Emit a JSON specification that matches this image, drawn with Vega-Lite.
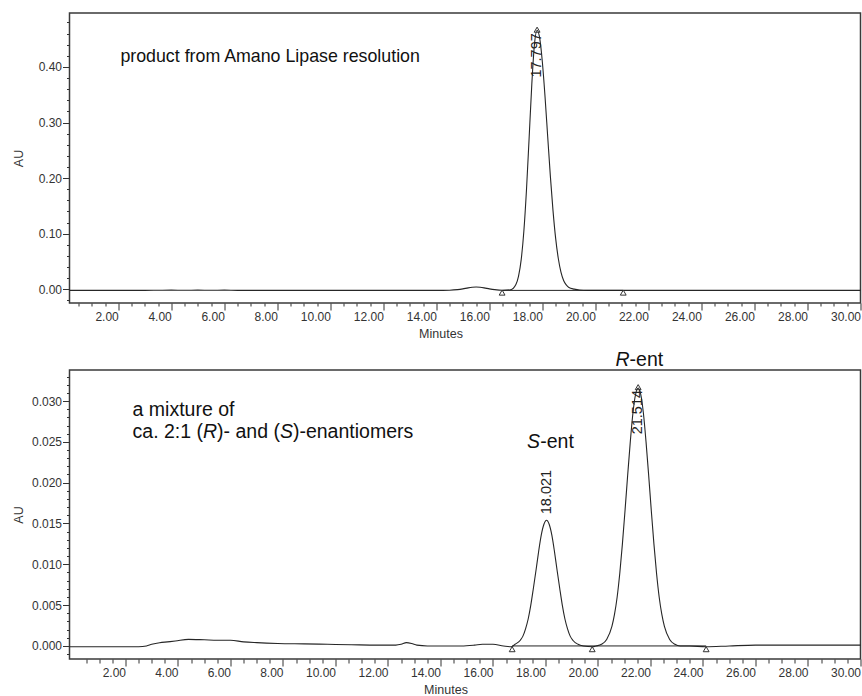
{
  "$schema": "https://vega.github.io/schema/vega-lite/v6.json",
  "padding": {"left": 11.5, "top": 12, "right": 0, "bottom": 0},
  "autosize": {"type": "pad"},
  "background": "white",
  "bounds": "full",
  "align": "none",
  "spacing": 8,
  "config": {
    "font": "Liberation Sans",
    "view": {"stroke": "#3a3a3a", "strokeWidth": 1.5},
    "axis": {"domain": false, "grid": false, "tickColor": "#333", "tickWidth": 1, "labelColor": "#333", "labelFontSize": 12, "titleFontSize": 12.5, "titleFontWeight": "normal", "titleColor": "#333", "labelFont": "Liberation Sans", "titleFont": "Liberation Sans", "labelOverlap": false, "labelFlush": false},
    "text": {"font": "Liberation Sans", "color": "#111"}
  },
  "datasets": {
    "top": [
      {"t": 0.16, "au": -0.002}, {"t": 1, "au": -0.002}, {"t": 2, "au": -0.002}, {"t": 3, "au": -0.002},
      {"t": 3.5, "au": -0.0018}, {"t": 4, "au": -0.0016}, {"t": 4.5, "au": -0.0018}, {"t": 5, "au": -0.0016},
      {"t": 5.5, "au": -0.0018}, {"t": 6, "au": -0.0016}, {"t": 6.5, "au": -0.002}, {"t": 7, "au": -0.002},
      {"t": 8, "au": -0.002}, {"t": 9, "au": -0.002}, {"t": 10, "au": -0.002}, {"t": 11, "au": -0.002},
      {"t": 12, "au": -0.002}, {"t": 13, "au": -0.002}, {"t": 14, "au": -0.002}, {"t": 14.5, "au": -0.0017},
      {"t": 14.8, "au": -0.0007}, {"t": 15, "au": 0.0007}, {"t": 15.2, "au": 0.0025}, {"t": 15.35, "au": 0.0035},
      {"t": 15.5, "au": 0.004}, {"t": 15.65, "au": 0.0035}, {"t": 15.8, "au": 0.0025}, {"t": 16, "au": 0.0007},
      {"t": 16.2, "au": -0.0007}, {"t": 16.5, "au": -0.0017}, {"t": 16.8, "au": -0.0008}, {"t": 17, "au": 0.0085},
      {"t": 17.1, "au": 0.0236}, {"t": 17.2, "au": 0.0533}, {"t": 17.3, "au": 0.1044}, {"t": 17.4, "au": 0.1796},
      {"t": 17.5, "au": 0.2732}, {"t": 17.6, "au": 0.3686}, {"t": 17.7, "au": 0.4408}, {"t": 17.8, "au": 0.466},
      {"t": 17.9, "au": 0.451}, {"t": 18, "au": 0.408}, {"t": 18.1, "au": 0.346}, {"t": 18.2, "au": 0.2745},
      {"t": 18.3, "au": 0.2036}, {"t": 18.4, "au": 0.1415}, {"t": 18.5, "au": 0.0915}, {"t": 18.6, "au": 0.0553},
      {"t": 18.7, "au": 0.0308}, {"t": 18.8, "au": 0.0158}, {"t": 18.9, "au": 0.0078}, {"t": 19, "au": 0.0032},
      {"t": 19.2, "au": 0.0002}, {"t": 19.4, "au": -0.0014}, {"t": 19.7, "au": -0.002}, {"t": 20.5, "au": -0.002},
      {"t": 21.5, "au": -0.002}, {"t": 22, "au": -0.002}, {"t": 23, "au": -0.002}, {"t": 24, "au": -0.002},
      {"t": 25, "au": -0.002}, {"t": 26, "au": -0.002}, {"t": 27, "au": -0.002}, {"t": 28, "au": -0.002},
      {"t": 29, "au": -0.002}, {"t": 30, "au": -0.002}
    ],
    "bot": [
      {"t": -0.13, "au": -0.0001}, {"t": 1, "au": -0.0001}, {"t": 2, "au": -0.0001}, {"t": 2.5, "au": -0.0001},
      {"t": 2.8, "au": 0.0}, {"t": 3.0, "au": 0.0002}, {"t": 3.3, "au": 0.0004}, {"t": 3.6, "au": 0.0005},
      {"t": 3.9, "au": 0.0006}, {"t": 4.4, "au": 0.0008}, {"t": 5.0, "au": 0.00075}, {"t": 5.5, "au": 0.0007},
      {"t": 6.0, "au": 0.0007}, {"t": 6.5, "au": 0.0005}, {"t": 7.0, "au": 0.0004}, {"t": 7.8, "au": 0.0003},
      {"t": 8.8, "au": 0.00025}, {"t": 9.7, "au": 0.0002}, {"t": 10.6, "au": 0.00015}, {"t": 11.6, "au": 0.0001},
      {"t": 12.3, "au": 0.0001}, {"t": 12.5, "au": 0.0002}, {"t": 12.7, "au": 0.0004}, {"t": 12.9, "au": 0.0003},
      {"t": 13.1, "au": 0.0001}, {"t": 13.5, "au": 0.0}, {"t": 14.0, "au": 0.0}, {"t": 14.8, "au": 0.0},
      {"t": 15.3, "au": 0.0001}, {"t": 15.6, "au": 0.0002}, {"t": 16.0, "au": 0.0002}, {"t": 16.4, "au": 0.0},
      {"t": 16.7, "au": -0.0001}, {"t": 16.84, "au": 0.0002}, {"t": 17.04, "au": 0.0007}, {"t": 17.14, "au": 0.0012},
      {"t": 17.24, "au": 0.0021}, {"t": 17.34, "au": 0.0033}, {"t": 17.44, "au": 0.005}, {"t": 17.54, "au": 0.0071},
      {"t": 17.64, "au": 0.0093}, {"t": 17.74, "au": 0.0116}, {"t": 17.84, "au": 0.0136}, {"t": 17.94, "au": 0.0149},
      {"t": 18.04, "au": 0.0154}, {"t": 18.14, "au": 0.0149}, {"t": 18.24, "au": 0.0136}, {"t": 18.34, "au": 0.0116},
      {"t": 18.44, "au": 0.0093}, {"t": 18.54, "au": 0.0071}, {"t": 18.64, "au": 0.005}, {"t": 18.74, "au": 0.0033},
      {"t": 18.84, "au": 0.0021}, {"t": 18.94, "au": 0.0012}, {"t": 19.04, "au": 0.0007}, {"t": 19.24, "au": 0.0002},
      {"t": 19.44, "au": 0.0}, {"t": 19.8, "au": -0.0001}, {"t": 19.93, "au": 0.0}, {"t": 20.13, "au": 0.0002},
      {"t": 20.33, "au": 0.0008}, {"t": 20.53, "au": 0.0024}, {"t": 20.63, "au": 0.0039}, {"t": 20.73, "au": 0.006},
      {"t": 20.83, "au": 0.0089}, {"t": 20.93, "au": 0.0125}, {"t": 21.03, "au": 0.0166}, {"t": 21.13, "au": 0.0209},
      {"t": 21.23, "au": 0.025}, {"t": 21.33, "au": 0.0285}, {"t": 21.43, "au": 0.0308}, {"t": 21.53, "au": 0.0316},
      {"t": 21.63, "au": 0.0308}, {"t": 21.73, "au": 0.0285}, {"t": 21.83, "au": 0.025}, {"t": 21.93, "au": 0.0209},
      {"t": 22.03, "au": 0.0166}, {"t": 22.13, "au": 0.0125}, {"t": 22.23, "au": 0.0089}, {"t": 22.33, "au": 0.006},
      {"t": 22.43, "au": 0.0039}, {"t": 22.53, "au": 0.0024}, {"t": 22.73, "au": 0.0008}, {"t": 22.93, "au": 0.0002},
      {"t": 23.13, "au": 0.0}, {"t": 23.5, "au": 0.0}, {"t": 24.1, "au": -0.0001}, {"t": 25, "au": 0.0},
      {"t": 26, "au": 0.0001}, {"t": 27, "au": 0.0001}, {"t": 28, "au": 0.0001}, {"t": 29, "au": 0.0001},
      {"t": 30, "au": 0.0001}
    ],
    "top_tri": [{"t": 16.48, "au": -0.006}, {"t": 21.05, "au": -0.006}, {"t": 17.8, "au": 0.467}],
    "bot_tri": [{"t": 16.73, "au": -0.0004}, {"t": 19.78, "au": -0.0004}, {"t": 24.12, "au": -0.0004}, {"t": 21.53, "au": 0.0317}],
    "top_base": [{"t": 16.48, "t2": 21.05, "au": -0.002}],
    "bot_base": [{"t": 16.73, "t2": 24.12, "au": 0.0}],
    "top_pk": [{"t": 17.8, "au": 0.466, "lab": "17.797"}],
    "bot_pk_in": [{"t": 21.53, "au": 0.0316, "lab": "21.514"}],
    "bot_pk_up": [{"t": 18.04, "au": 0.0154, "lab": "18.021"}],
    "top_note": [{"t": 2.08, "au": 0.409, "txt": "product from Amano Lipase resolution"}],
    "bot_note": [
      {"t": 2.27, "au": 0.02817, "txt": "a mixture of"},
      {"t": 2.27, "au": 0.02551, "txt": "ca. 2:1 ("},
      {"t": 5.49, "au": 0.02551, "txt": ")- and ("},
      {"t": 8.379, "au": 0.02551, "txt": ")-enantiomers"},
      {"t": 17.80, "au": 0.02421, "txt": "-ent"},
      {"t": 21.204, "au": 0.03429, "txt": "-ent"}
    ],
    "bot_ital": [
      {"t": 4.954, "au": 0.02551, "txt": "R"},
      {"t": 7.884, "au": 0.02551, "txt": "S"},
      {"t": 17.30, "au": 0.02421, "txt": "S"},
      {"t": 20.667, "au": 0.03429, "txt": "R"}
    ]
  },
  "vconcat": [
    {
      "width": 791,
      "height": 290,
      "encoding": {
        "x": {"field": "t", "type": "quantitative", "scale": {"domain": [0.16, 30], "nice": false, "zero": false},
          "axis": {"title": "Minutes", "titleX": 371, "titlePadding": 5,
            "values": [0.5,1,1.5,2,2.5,3,3.5,4,4.5,5,5.5,6,6.5,7,7.5,8,8.5,9,9.5,10,10.5,11,11.5,12,12.5,13,13.5,14,14.5,15,15.5,16,16.5,17,17.5,18,18.5,19,19.5,20,20.5,21,21.5,22,22.5,23,23.5,24,24.5,25,25.5,26,26.5,27,27.5,28,28.5,29,29.5,30],
            "labelExpr": "datum.value % 2 === 0 ? format(datum.value, '.2f') : ''",
            "labelAlign": "right", "labelPadding": 1,
            "tickSize": {"condition": {"test": "datum.value % 2 === 0", "value": 7}, "value": 3}}},
        "y": {"field": "au", "type": "quantitative", "scale": {"domain": [-0.0247, 0.497], "nice": false, "zero": false},
          "axis": {"title": "AU", "titleX": -44,
            "values": [-0.02,0,0.02,0.04,0.06,0.08,0.1,0.12,0.14,0.16,0.18,0.2,0.22,0.24,0.26,0.28,0.3,0.32,0.34,0.36,0.38,0.4,0.42,0.44,0.46,0.48],
            "labelExpr": "abs(datum.value*10 - round(datum.value*10)) < 1e-6 ? format(datum.value, '.2f') : ''",
            "labelPadding": 1,
            "tickSize": {"condition": {"test": "abs(datum.value*10 - round(datum.value*10)) < 1e-6", "value": 7}, "value": 3}}}
      },
      "layer": [
        {"data": {"name": "top"}, "mark": {"type": "line", "color": "#262626", "strokeWidth": 1.1, "interpolate": "monotone"}},
        {"data": {"name": "top_base"}, "mark": {"type": "rule", "color": "#222", "strokeWidth": 1}, "encoding": {"x2": {"field": "t2"}}},
        {"data": {"name": "top_tri"}, "mark": {"type": "point", "shape": "triangle-up", "filled": false, "size": 34, "color": "#333", "strokeWidth": 1, "opacity": 1}},
        {"data": {"name": "top_pk"}, "mark": {"type": "text", "angle": 270, "align": "right", "baseline": "middle", "dx": -3, "fontSize": 14.5, "color": "#222"}, "encoding": {"text": {"field": "lab"}}},
        {"data": {"name": "top_note"}, "mark": {"type": "text", "align": "left", "baseline": "alphabetic", "fontSize": 17.8, "color": "#111"}, "encoding": {"text": {"field": "txt"}}}
      ]
    },
    {
      "width": 791,
      "height": 289,
      "encoding": {
        "x": {"field": "t", "type": "quantitative", "scale": {"domain": [-0.133, 30], "nice": false, "zero": false},
          "axis": {"title": "Minutes", "titleX": 376, "titlePadding": 5,
            "values": [0.5,1,1.5,2,2.5,3,3.5,4,4.5,5,5.5,6,6.5,7,7.5,8,8.5,9,9.5,10,10.5,11,11.5,12,12.5,13,13.5,14,14.5,15,15.5,16,16.5,17,17.5,18,18.5,19,19.5,20,20.5,21,21.5,22,22.5,23,23.5,24,24.5,25,25.5,26,26.5,27,27.5,28,28.5,29,29.5,30],
            "labelExpr": "datum.value % 2 === 0 ? format(datum.value, '.2f') : ''",
            "labelAlign": "right", "labelPadding": 1,
            "tickSize": {"condition": {"test": "datum.value % 2 === 0", "value": 7}, "value": 4}}},
        "y": {"field": "au", "type": "quantitative", "scale": {"domain": [-0.0016, 0.0338], "nice": false, "zero": false},
          "axis": {"title": "AU", "titleX": -44,
            "values": [-0.001,0,0.001,0.002,0.003,0.004,0.005,0.006,0.007,0.008,0.009,0.01,0.011,0.012,0.013,0.014,0.015,0.016,0.017,0.018,0.019,0.02,0.021,0.022,0.023,0.024,0.025,0.026,0.027,0.028,0.029,0.03,0.031,0.032,0.033],
            "labelExpr": "abs(datum.value*200 - round(datum.value*200)) < 1e-6 ? format(datum.value, '.3f') : ''",
            "labelPadding": 1,
            "tickSize": {"condition": {"test": "abs(datum.value*200 - round(datum.value*200)) < 1e-6", "value": 7}, "value": 3}}}
      },
      "layer": [
        {"data": {"name": "bot"}, "mark": {"type": "line", "color": "#262626", "strokeWidth": 1.1, "interpolate": "monotone"}},
        {"data": {"name": "bot_base"}, "mark": {"type": "rule", "color": "#222", "strokeWidth": 1}, "encoding": {"x2": {"field": "t2"}}},
        {"data": {"name": "bot_tri"}, "mark": {"type": "point", "shape": "triangle-up", "filled": false, "size": 34, "color": "#333", "strokeWidth": 1, "opacity": 1}},
        {"data": {"name": "bot_pk_in"}, "mark": {"type": "text", "angle": 270, "align": "right", "baseline": "middle", "dx": -2, "fontSize": 14.5, "color": "#222"}, "encoding": {"text": {"field": "lab"}}},
        {"data": {"name": "bot_pk_up"}, "mark": {"type": "text", "angle": 270, "align": "left", "baseline": "middle", "dx": 6, "fontSize": 14.5, "color": "#222"}, "encoding": {"text": {"field": "lab"}}},
        {"data": {"name": "bot_note"}, "mark": {"type": "text", "align": "left", "baseline": "alphabetic", "fontSize": 19.5, "color": "#111"}, "encoding": {"text": {"field": "txt"}}},
        {"data": {"name": "bot_ital"}, "mark": {"type": "text", "align": "left", "baseline": "alphabetic", "fontSize": 19.5, "fontStyle": "italic", "color": "#111"}, "encoding": {"text": {"field": "txt"}}}
      ]
    }
  ]
}
